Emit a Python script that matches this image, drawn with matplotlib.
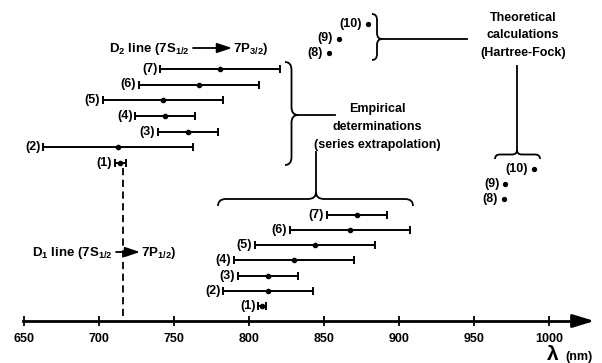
import matplotlib
matplotlib.use("Agg")
import matplotlib.pyplot as plt
from matplotlib.path import Path
from matplotlib.patches import PathPatch

plt.rcParams['font.family'] = ['Liberation Sans', 'DejaVu Sans']
plt.rcParams['font.weight'] = 'bold'
plt.rcParams['mathtext.fontset'] = 'custom'
plt.rcParams['mathtext.rm'] = 'Liberation Sans:bold'
plt.rcParams['mathtext.bf'] = 'Liberation Sans:bold'
plt.rcParams['mathtext.default'] = 'bf'

# --- data (wavelengths in nm) ---
emp_labels = ['(1)', '(2)', '(3)', '(4)', '(5)', '(6)', '(7)']
d2_center = [714, 712.5, 759, 744, 742.5, 766.5, 780.5]
d2_err = [3.5, 50, 20, 20, 40, 40, 40]
d1_center = [808.5, 812.5, 812.5, 829.5, 843.5, 867, 871.5]
d1_err = [2.5, 30, 20, 40, 40, 40, 20]

theo_labels = ['(8)', '(9)', '(10)']
d2_theory = [853, 859.5, 879]
d1_theory = [969.5, 970.5, 989.5]

d2_measured = 716
tick_values = [650, 700, 750, 800, 850, 900, 950, 1000]

# --- layout (pixels) ---
W, H = 602, 363
PX_PER_NM = 1.5
LAM0 = 800 - 249.3 / PX_PER_NM
AXIS_Y = 321
FS = 9


def rows(start, step, n):
    return [start - step * i for i in range(n)]


fig = plt.figure(figsize=(W / 100, H / 100), dpi=100)
ax = fig.add_axes([0, 0, 1, 1])
ax.set_xlim(LAM0, LAM0 + W / PX_PER_NM)
ax.set_ylim(H, 0)
ax.patch.set_alpha(0)

ebar = dict(fmt='o', color='black', ms=3, lw=1.4, capsize=3, capthick=1.4)
y_d2 = rows(163, 15.7, len(d2_center))
y_d1 = rows(306, 15.17, len(d1_center))
ax.errorbar(d2_center, y_d2, xerr=d2_err, **ebar)
ax.errorbar(d1_center, y_d1, xerr=d1_err, **ebar)
for lbl, c, e, y in zip(emp_labels, d2_center, d2_err, y_d2):
    ax.annotate(lbl, (c - e, y), xytext=(-2, 0), textcoords='offset points',
                ha='right', va='center', fontsize=FS)
for lbl, c, e, y in zip(emp_labels, d1_center, d1_err, y_d1):
    ax.annotate(lbl, (c - e, y), xytext=(-2, 0), textcoords='offset points',
                ha='right', va='center', fontsize=FS)

y_t2 = rows(53, 14.5, len(d2_theory))
y_t1 = rows(199, 15, len(d1_theory))
ax.plot(d2_theory, y_t2, 'o', color='black', ms=2.8)
ax.plot(d1_theory, y_t1, 'o', color='black', ms=2.8)
for lbl, x, y in zip(theo_labels, d2_theory, y_t2):
    ax.annotate(lbl, (x, y), xytext=(-4, 0), textcoords='offset points',
                ha='right', va='center', fontsize=FS)
for lbl, x, y in zip(theo_labels, d1_theory, y_t1):
    ax.annotate(lbl, (x, y), xytext=(-4, 0), textcoords='offset points',
                ha='right', va='center', fontsize=FS)

# dashed marker of measured D2 line
ax.plot([d2_measured, d2_measured], [168, AXIS_Y], color='black', lw=1.3,
        ls=(0, (4, 2.5)))

# wavelength axis
for s in ['left', 'right', 'top']:
    ax.spines[s].set_visible(False)
ax.spines['bottom'].set_position(('data', AXIS_Y))
ax.spines['bottom'].set_bounds(649, 1020)
ax.spines['bottom'].set_linewidth(2)
ax.set_yticks([])
ax.set_xticks(tick_values)
ax.set_xticklabels([str(t) for t in tick_values])
ax.tick_params(axis='x', direction='inout', length=7, width=1.3,
               labelsize=FS, pad=5)
ax.annotate('', xy=(1030, AXIS_Y), xytext=(1017, AXIS_Y),
            arrowprops=dict(arrowstyle='-|>,head_length=1.3,head_width=0.4',
                            color='black', lw=2, shrinkA=0, shrinkB=0,
                            mutation_scale=10))

# annotation layer in pixel coords
ann = fig.add_axes([0, 0, 1, 1])
ann.set_xlim(0, W)
ann.set_ylim(H, 0)
ann.axis('off')
ann.patch.set_alpha(0)


def brace(a, b, base, tip, mid, vertical, r=7):
    h = (base + tip) / 2
    pts = [(a, base), (a, h), (a + r, h), (mid - r, h), (mid, h), (mid, tip),
           (mid, h), (mid + r, h), (b - r, h), (b, h), (b, base)]
    codes = [Path.MOVETO, Path.CURVE3, Path.CURVE3, Path.LINETO, Path.CURVE3,
             Path.CURVE3, Path.CURVE3, Path.CURVE3, Path.LINETO, Path.CURVE3,
             Path.CURVE3]
    if vertical:
        pts = [(v, u) for u, v in pts]
    ann.add_patch(PathPatch(Path(pts, codes), fill=False, lw=1.3,
                            edgecolor='black'))


brace(62, 165, 285, 298, 115, True, r=8)
brace(14, 60, 372, 382, 39, True, r=6)
brace(218, 413, 206, 192, 316, False, r=8)
brace(495, 540, 159, 150, 517, False, r=5)

ann.plot([298, 335], [115, 115], color='black', lw=1.3)
ann.plot([382, 467], [39, 39], color='black', lw=1.3)
ann.plot([316, 316], [192, 152], color='black', lw=1.3)
ann.plot([517, 517], [150, 66], color='black', lw=1.3)

for txt, y in [('Empirical', 109), ('determinations', 127),
               ('(series extrapolation)', 145)]:
    ann.text(377, y, txt, ha='center', va='center', fontsize=FS)
for txt, y in [('Theoretical', 18), ('calculations', 35),
               ('(Hartree-Fock)', 53)]:
    ann.text(523, y, txt, ha='center', va='center', fontsize=FS)

# transition labels
ann.text(190, 52, r'D$_2$ line (7S$_{1/2}$', ha='right', va='baseline',
         fontsize=FS + 0.5)
ann.annotate('', xy=(232, 48), xytext=(193, 48),
             arrowprops=dict(arrowstyle='-|>,head_length=0.9,head_width=0.3',
                             color='black', lw=1.3, shrinkA=0, shrinkB=0,
                             mutation_scale=10))
ann.text(233, 52, r'7P$_{3/2}$)', ha='left', va='baseline', fontsize=FS + 0.5)

ann.text(113, 256, r'D$_1$ line (7S$_{1/2}$', ha='right', va='baseline',
         fontsize=FS + 0.5)
ann.annotate('', xy=(140, 252), xytext=(116, 252),
             arrowprops=dict(arrowstyle='-|>,head_length=0.9,head_width=0.3',
                             color='black', lw=1.3, shrinkA=0, shrinkB=0,
                             mutation_scale=10))
ann.text(141, 256, r'7P$_{1/2}$)', ha='left', va='baseline', fontsize=FS + 0.5)

ann.text(553, 355, 'λ', ha='center', va='center', fontsize=15)
ann.text(565, 357, '(nm)', ha='left', va='center', fontsize=FS)

fig.savefig('out.png', dpi=100)
